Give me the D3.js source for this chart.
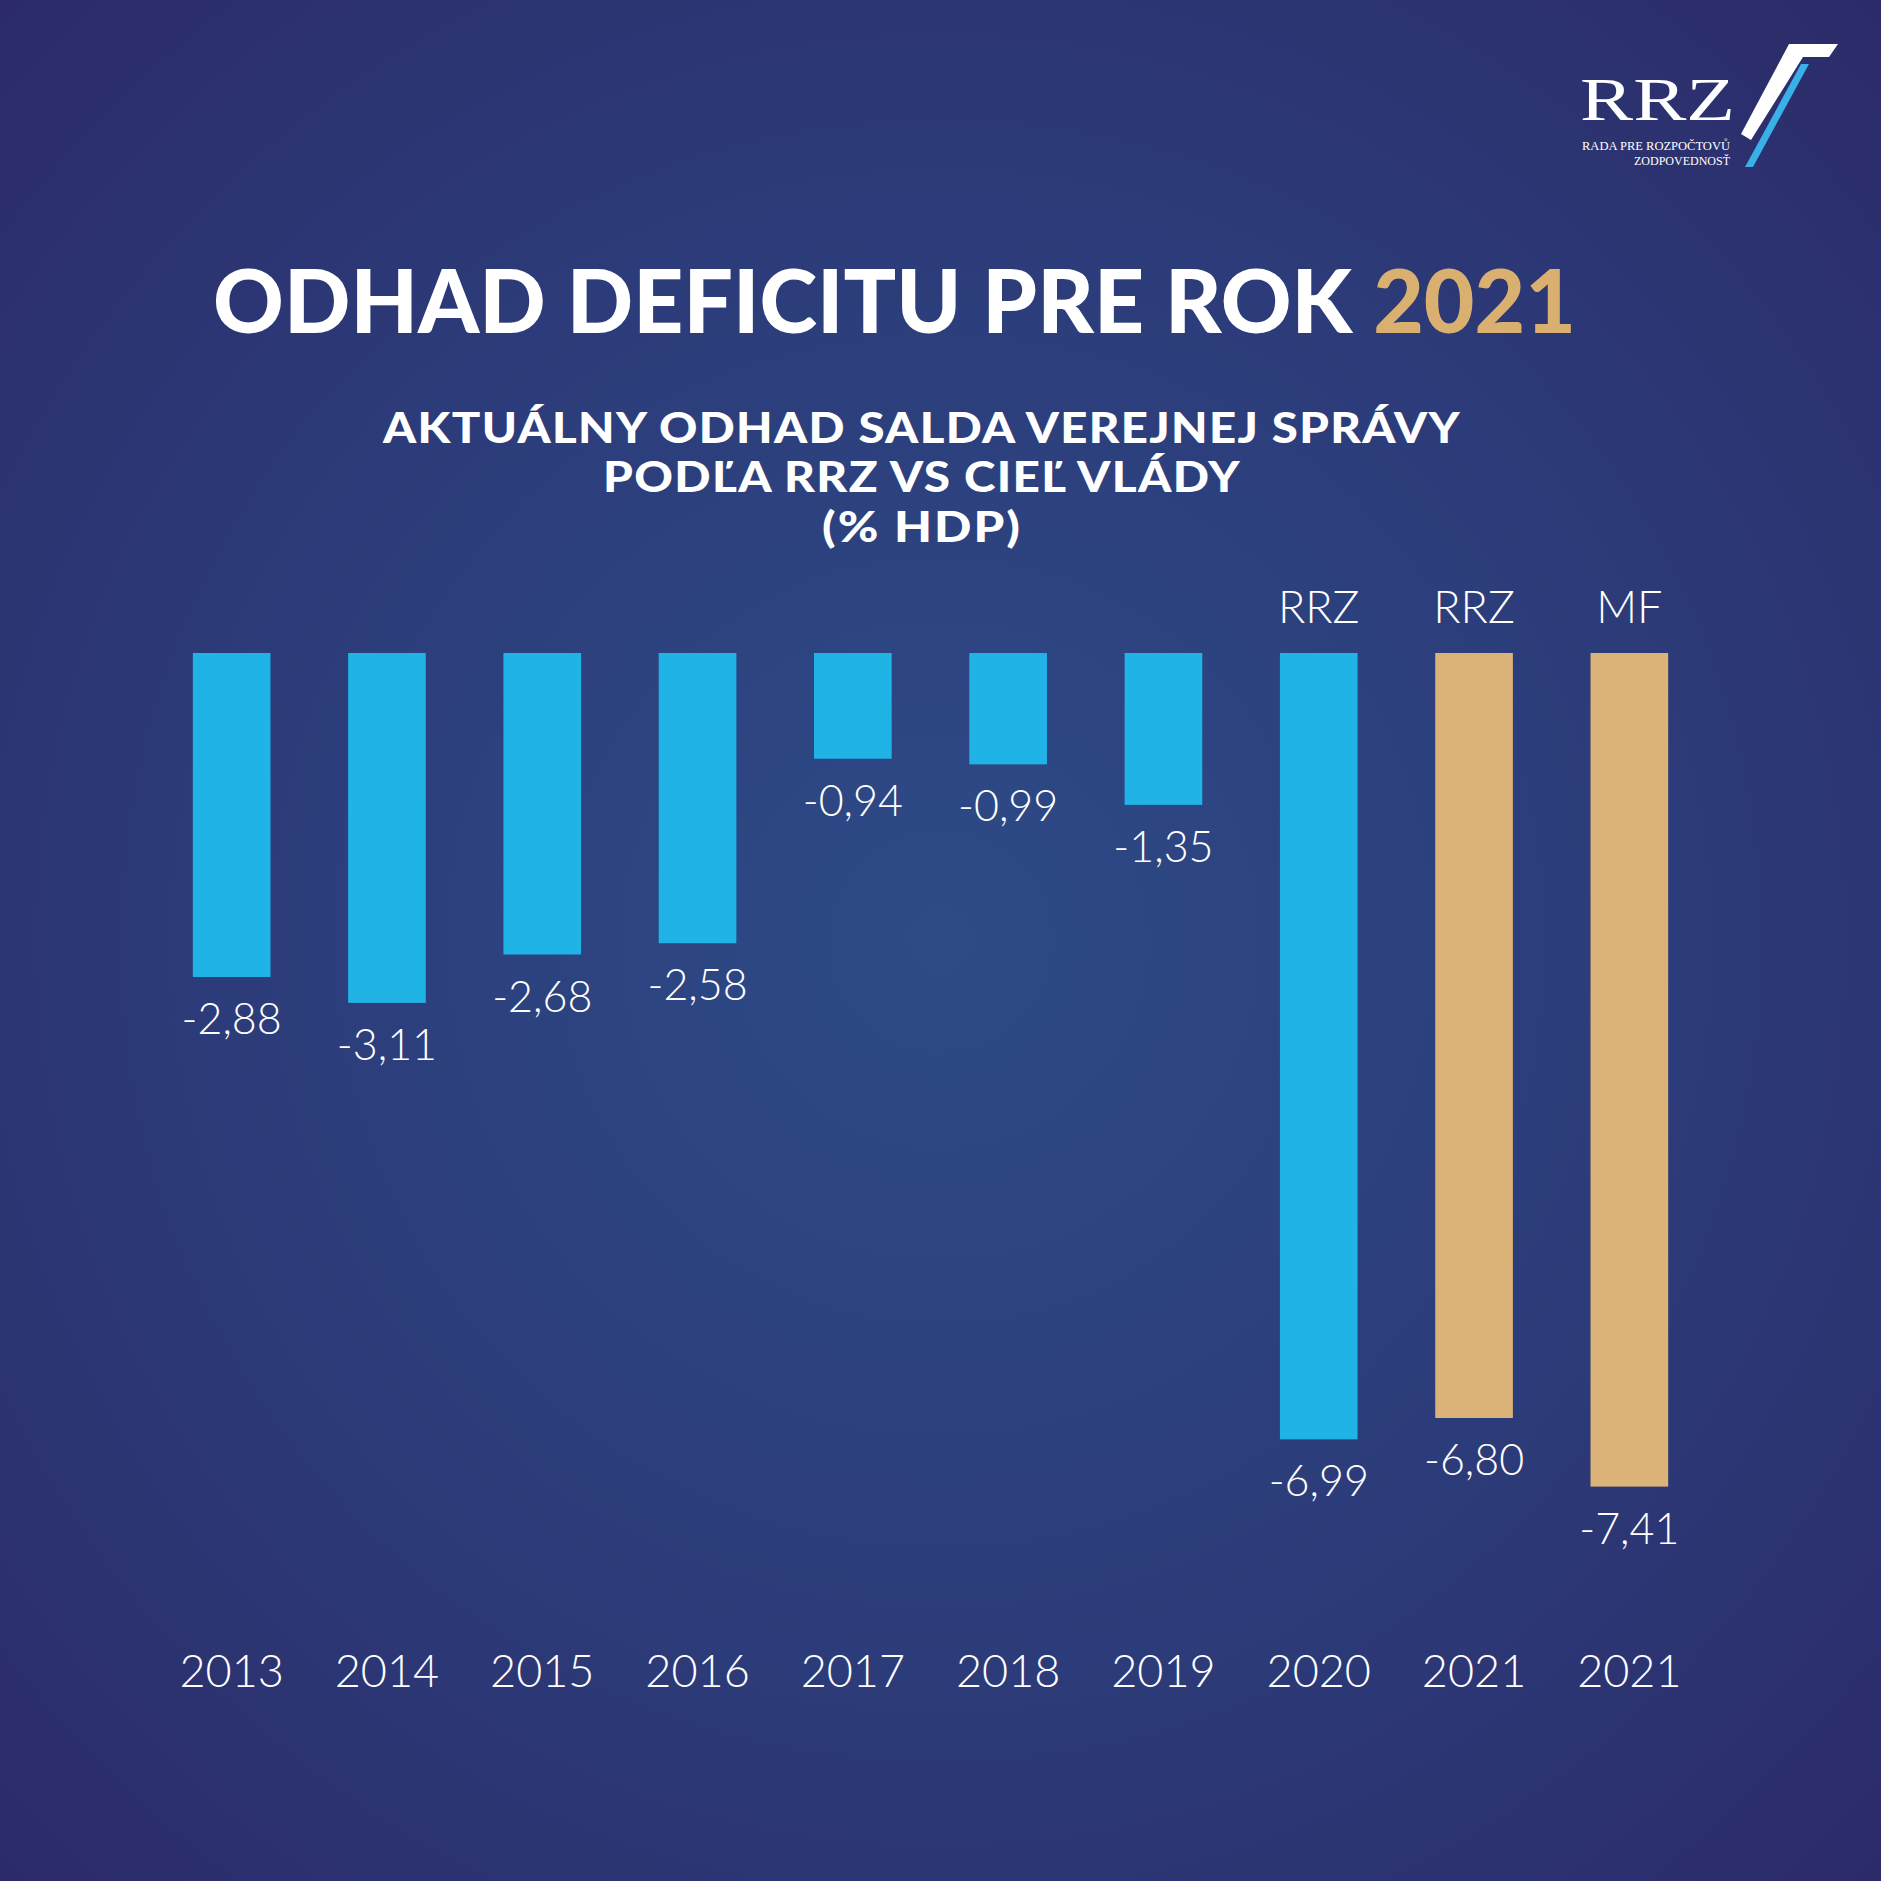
<!DOCTYPE html>
<html>
<head>
<meta charset="utf-8">
<script src="https://cdn.jsdelivr.net/npm/d3@7"></script>
<style>
  html, body { margin: 0; padding: 0; background: #2c2b6a; }
  svg { display: block; }
</style>
</head>
<body>
<div id="chart"></div>
<script>
// data
const years = ['2013', '2014', '2015', '2016', '2017', '2018', '2019', '2020', '2021', '2021'];
const sources = ['', '', '', '', '', '', '', 'RRZ', 'RRZ', 'MF'];
const values = [-2.88, -3.11, -2.68, -2.58, -0.94, -0.99, -1.35, -6.99, -6.80, -7.41];
const isTarget2021 = [false, false, false, false, false, false, false, false, true, true];

const titleMain = 'ODHAD DEFICITU PRE ROK ';
const titleYear = '2021';
const subtitleLines = ['AKTUÁLNY ODHAD SALDA VEREJNEJ SPRÁVY', 'PODĽA RRZ VS CIEĽ VLÁDY', '(% HDP)'];

const W = 1881, H = 1881;
const blue = '#20b3e6', gold = '#dbb277';
const heavy = 'Lato, "Open Sans", "DejaVu Sans", sans-serif';
const light = 'Lato, Roboto, "Open Sans", sans-serif';

const svg = d3.select('#chart').append('svg')
    .attr('width', W)
    .attr('height', H);

// background
const defs = svg.append('defs');
const grad = defs.append('radialGradient')
    .attr('id', 'bg')
    .attr('cx', '0.5').attr('cy', '0.5').attr('r', '0.72');
grad.append('stop').attr('offset', '0').attr('stop-color', '#2d4b87');
grad.append('stop').attr('offset', '0.55').attr('stop-color', '#2c3b79');
grad.append('stop').attr('offset', '1').attr('stop-color', '#2c2a68');
svg.append('rect').attr('width', W).attr('height', H).attr('fill', 'url(#bg)');

// the poster font is wider than Lato, so widen glyphs a bit and space the rest
function fitTo(text, target) {
    const len = text.node().getComputedTextLength();
    const n = text.text().length;
    const ls = Math.max(0, (target - len) * 0.25 / (n - 1));
    text.attr('letter-spacing', ls)
        .attr('textLength', target)
        .attr('lengthAdjust', 'spacingAndGlyphs');
}

// title
const title = svg.append('text')
    .attr('x', 213)
    .attr('y', 333)
    .style('font-family', heavy)
    .style('font-weight', 900)
    .style('font-size', '87px');
title.append('tspan').attr('fill', '#ffffff').text(titleMain);
title.append('tspan').attr('fill', '#d9b06f').text(titleYear);
fitTo(title, 1363);

// subtitle
const subWidths = [1078, 638, 200];
const subBase = [443, 492, 542];
subtitleLines.forEach((line, i) => {
    const t = svg.append('text')
        .attr('y', subBase[i])
        .attr('fill', '#ffffff')
        .style('font-family', heavy)
        .style('font-weight', 900)
        .style('font-size', '42px')
        .text(line);
    fitTo(t, subWidths[i]);
    t.attr('x', 922 - subWidths[i] / 2);
});

// scales
const x = d3.scaleBand()
    .domain(d3.range(years.length))
    .range([154, 1707])
    .paddingInner(0.5)
    .paddingOuter(0.25);

const y = d3.scaleLinear()
    .domain([0, -8])
    .range([653, 653 + 8 * 112.5]);

const fmt = d3.formatLocale({
    decimal: ',', thousands: ' ', grouping: [3], currency: ['', ''], minus: '-'
}).format('.2f');

const g = svg.append('g');

g.selectAll('rect.bar')
    .data(values)
    .join('rect')
    .attr('class', 'bar')
    .attr('x', (d, i) => x(i))
    .attr('y', y(0))
    .attr('width', x.bandwidth())
    .attr('height', d => y(d) - y(0))
    .attr('fill', (d, i) => isTarget2021[i] ? gold : blue);

g.selectAll('text.val')
    .data(values)
    .join('text')
    .attr('class', 'val')
    .attr('x', (d, i) => x(i) + x.bandwidth() / 2)
    .attr('y', d => y(d) + 57)
    .attr('text-anchor', 'middle')
    .attr('fill', '#ffffff')
    .style('font-family', light)
    .style('font-weight', 300)
    .style('font-size', '43px')
    .text(d => fmt(d));

g.selectAll('text.src')
    .data(sources)
    .join('text')
    .attr('class', 'src')
    .attr('x', (d, i) => x(i) + x.bandwidth() / 2)
    .attr('y', 623)
    .attr('text-anchor', 'middle')
    .attr('fill', '#ffffff')
    .style('font-family', light)
    .style('font-weight', 300)
    .style('font-size', '45px')
    .text(d => d);

// year axis
const xAxis = svg.append('g')
    .attr('transform', 'translate(0,1687)')
    .call(d3.axisBottom(x).tickSize(0).tickFormat(i => years[i]));
xAxis.select('.domain').remove();
xAxis.selectAll('text')
    .attr('y', 0)
    .attr('dy', 0)
    .attr('fill', '#ffffff')
    .style('font-family', light)
    .style('font-weight', 300)
    .style('font-size', '45px');

// logo
const logo = svg.append('g');
logo.append('text')
    .attr('x', 1580).attr('y', 120)
    .attr('fill', '#ffffff')
    .attr('textLength', 155)
    .attr('lengthAdjust', 'spacingAndGlyphs')
    .style('font-family', '"Liberation Serif", "DejaVu Serif", serif')
    .style('font-size', '62px')
    .text('RRZ');
logo.append('text')
    .attr('x', 1582).attr('y', 150)
    .attr('fill', '#ffffff')
    .attr('textLength', 148)
    .attr('lengthAdjust', 'spacingAndGlyphs')
    .style('font-family', '"Liberation Serif", "DejaVu Serif", serif')
    .style('font-size', '12px')
    .text('RADA PRE ROZPOČTOVŮ');
logo.append('text')
    .attr('x', 1730).attr('y', 165)
    .attr('text-anchor', 'end')
    .attr('fill', '#ffffff')
    .style('font-family', '"Liberation Serif", "DejaVu Serif", serif')
    .style('font-size', '12px')
    .text('ZODPOVEDNOSŤ');
logo.append('polygon')
    .attr('points', '1789,44 1838,44 1829,57 1803,57 1751,140 1741,134')
    .attr('fill', '#ffffff');
logo.append('polygon')
    .attr('points', '1801,64 1809,64 1753,167 1745,167')
    .attr('fill', '#3ab0e8');
</script>
</body>
</html>
